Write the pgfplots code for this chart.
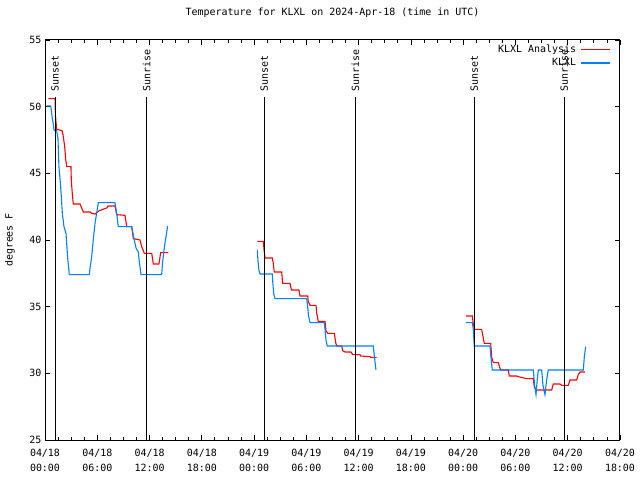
\documentclass[border=0pt]{standalone}
\usepackage{pgfplots}
\pgfplotsset{compat=1.18}
\usepackage{fontspec}
\setmainfont{DejaVu Sans Mono}
\definecolor{analysisred}{RGB}{255,0,0}
\definecolor{obsblue}{RGB}{0,128,255}

\begin{document}
\begin{tikzpicture}
\useasboundingbox (0,0) rectangle (640bp,480bp);
\begin{axis}[
    at={(45bp,40bp)}, anchor=south west,
    scale only axis,
    width=575bp, height=400bp,
    xmin=0, xmax=66, ymin=25, ymax=55,
    xtick={0,6,...,66},
    xticklabels={{04/18\\00:00},{04/18\\06:00},{04/18\\12:00},{04/18\\18:00},
                 {04/19\\00:00},{04/19\\06:00},{04/19\\12:00},{04/19\\18:00},
                 {04/20\\00:00},{04/20\\06:00},{04/20\\12:00},{04/20\\18:00}},
    minor x tick num=3,
    ytick={25,30,...,55},
    tick align=inside,
    major tick length=5bp,
    minor tick length=3bp,
    tick style={black, line width=0.8bp},
    axis line style={black, line width=1bp},
    font=\fontsize{10}{12}\selectfont,
    /pgf/number format/assume math mode=true,
    xticklabel style={align=center, yshift=-5.5bp, font=\fontsize{10}{15}\selectfont},
    ylabel={degrees F},
    ylabel style={at={(axis description cs:-0.0609,0.5)}, anchor=center},
    title={Temperature for KLXL on 2024-Apr-18 (time in UTC)},
    title style={at={(axis description cs:0.5,1)}, anchor=center, yshift=21bp},
    legend cell align=right,
    legend plot pos=right,
    legend image code/.code={\draw[#1] (0bp,0bp) -- (29bp,0bp);},
    legend style={at={(axis description cs:1,1)}, anchor=north east,
        xshift=-6bp, yshift=-0.5bp, draw=none, fill=none,
        row sep=0.8bp, column sep=2.5bp, font=\fontsize{10}{12}\selectfont},
    clip=false,
]
% KLXL Analysis
\addplot[analysisred, line width=1.1bp] coordinates {
 (0.38,50.6) (1.15,50.6) (1.2,49.3) (1.34,48.3) (1.95,48.2) (2.07,47.9)
 (2.26,47.0) (2.38,46.0) (2.5,45.5) (2.98,45.5) (3.02,44.5) (3.13,43.5)
 (3.25,42.7) (4.02,42.7) (4.21,42.4) (4.4,42.1) (5.17,42.1) (5.36,42.0)
 (5.74,41.95) (6.23,42.2) (7.08,42.4) (7.23,42.55) (8.03,42.55) (8.23,41.9)
 (9.18,41.85) (9.38,41.0) (9.95,41.0) (10.14,40.1) (10.9,40.0) (11.1,39.5)
 (11.4,39.0) (12.25,39.0) (12.43,38.2) (13.08,38.2) (13.28,39.05) (14.15,39.05)
};
\addlegendentry{KLXL Analysis}
% KLXL
\addplot[obsblue, line width=1.1bp] coordinates {
 (0.2,50.05) (0.65,50.05) (0.72,49.75) (0.84,49.1) (0.95,48.75) (1.03,48.25)
 (1.34,48.2) (1.49,47.6) (1.6,45.5) (1.8,44.0) (1.99,42.0) (2.18,41.0)
 (2.41,40.5) (2.61,38.6) (2.79,37.4) (5.08,37.4) (5.17,37.9) (5.36,38.75)
 (5.54,40.0) (5.74,41.25) (5.93,42.0) (6.12,42.8) (8.03,42.8) (8.23,42.0)
 (8.41,41.0) (9.95,41.0) (10.07,40.6) (10.25,40.0) (10.45,39.4) (10.71,39.1)
 (10.82,38.4) (11.02,37.4) (13.39,37.4) (13.51,38.4) (13.69,39.4) (13.89,40.25)
 (14.08,41.05)
};
\addlegendentry{KLXL}
\addplot[analysisred, line width=1.1bp, forget plot] coordinates {
 (24.37,39.9) (25.06,39.9) (25.14,39.3) (25.25,38.65) (26.09,38.65) (26.2,38.25)
 (26.32,37.6) (27.17,37.6) (27.28,36.75) (28.12,36.75) (28.29,36.25) (29.15,36.25)
 (29.27,35.8) (30.15,35.8) (30.22,35.4) (30.42,35.1) (31.11,35.1) (31.19,34.5)
 (31.37,33.9) (32.14,33.9) (32.25,33.2) (32.45,33.0) (33.21,33.0) (33.37,32.3)
 (33.48,32.05) (34.06,32.05) (34.17,31.7) (34.43,31.6) (35.12,31.6) (35.32,31.4)
 (36.16,31.4) (36.24,31.3) (37.3,31.25) (37.4,31.2) (38.07,31.2)
};
\addplot[obsblue, line width=1.1bp, forget plot] coordinates {
 (24.37,39.25) (24.45,38.4) (24.55,37.75) (24.68,37.45) (26.09,37.45) (26.15,36.8)
 (26.25,36.0) (26.4,35.6) (30.04,35.6) (30.15,35.0) (30.25,34.3) (30.42,33.8)
 (32.06,33.8) (32.15,33.25) (32.25,32.5) (32.4,32.05) (37.68,32.05) (37.8,31.3)
 (37.99,30.25)
};
\addplot[analysisred, line width=1.1bp, forget plot] coordinates {
 (48.32,34.3) (49.05,34.3) (49.16,33.7) (49.3,33.3) (50.12,33.3) (50.24,32.9)
 (50.42,32.25) (51.16,32.25) (51.27,31.2) (51.46,30.8) (52.03,30.8) (52.22,30.4)
 (52.3,30.25) (53.18,30.25) (53.29,29.8) (54.14,29.8) (54.33,29.75) (55.29,29.6)
 (56.05,29.6) (56.16,29.0) (56.36,28.75) (58.16,28.75) (58.34,29.2) (59.11,29.2)
 (59.31,29.1) (60.06,29.1) (60.26,29.5) (61.03,29.5) (61.21,29.9) (61.41,30.1)
 (61.98,30.1)
};
\addplot[obsblue, line width=1.1bp, forget plot] coordinates {
 (48.32,33.8) (49.05,33.8) (49.16,33.3) (49.27,32.05) (51.08,32.05) (51.19,31.2)
 (51.34,30.25) (56.05,30.25) (56.2,29.1) (56.36,28.4) (56.5,29.5) (56.62,30.25)
 (57.01,30.25) (57.16,29.1) (57.39,28.4) (57.58,29.5) (57.77,30.25) (61.79,30.25)
 (61.9,31.2) (62.06,32.0)
};
% sunset / sunrise markers
\foreach \t/\lab in {1.15/Sunset, 11.67/Sunrise, 25.17/Sunset, 35.62/Sunrise, 49.28/Sunset, 59.6/Sunrise} {
  \edef\temp{\noexpand\draw[black, line width=1bp] (axis cs:\t,25) -- (axis cs:\t,50.7);
    \noexpand\node[rotate=90, anchor=west, inner sep=0pt] at (axis cs:\t,51.1) {\lab};}
  \temp
}
\end{axis}
\end{tikzpicture}
\end{document}
